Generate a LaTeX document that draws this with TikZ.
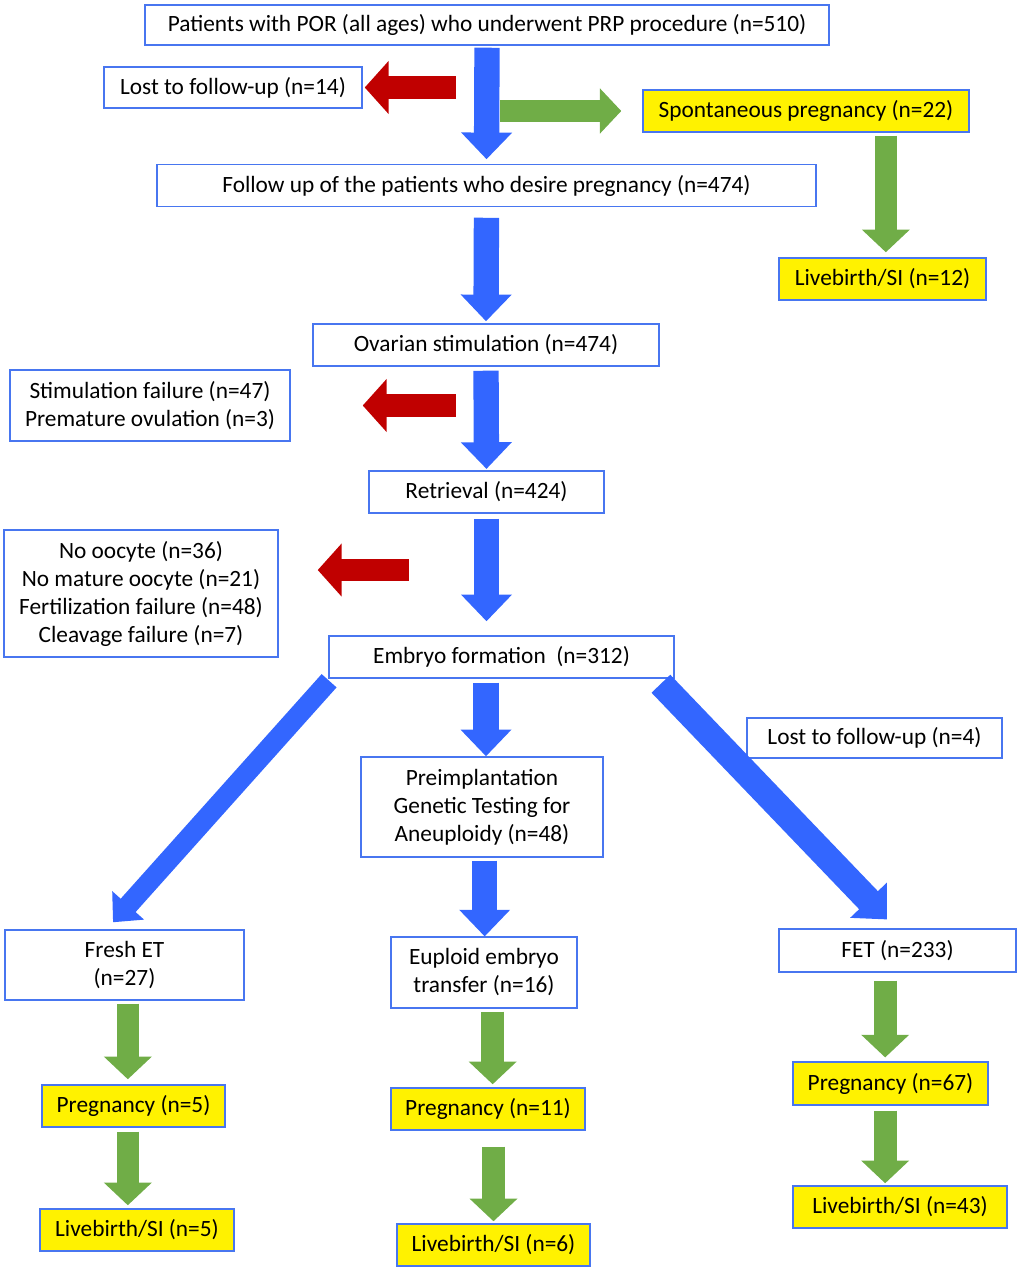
\documentclass[tikz,border=0pt]{standalone}
\usepackage{fontspec}
\setmainfont{Carlito}
\usetikzlibrary{arrows.meta}

\definecolor{boxline}{RGB}{72,118,240}
\definecolor{arrblue}{RGB}{51,102,255}
\definecolor{arrgreen}{RGB}{112,173,71}
\definecolor{arrred}{RGB}{192,0,0}

\tikzset{
    box/.style={draw=boxline, line width=1.1pt, fill=white, align=center, inner sep=0pt,
        font=\fontsize{17.5}{21}\selectfont, text=black},
    ybox/.style={box, fill=yellow},
    bluedown/.style={color=arrblue, line width=19pt, -{Triangle[length=20pt,width=37pt]}},
    greendown/.style={color=arrgreen, line width=17pt, -{Triangle[length=17pt,width=35pt]}},
    redleft/.style={color=arrred, line width=17pt, -{Triangle[length=18pt,width=39pt]}},
}

\begin{document}
\begin{tikzpicture}[x=0.75pt,y=-0.75pt]
    \useasboundingbox (0,0) rectangle (1020,1273);

    \node[box, minimum width=513pt, minimum height=30pt] (por) at (487,25) {Patients with POR (all ages) who underwent PRP procedure (n=510)};
    \node[box, minimum width=193.5pt, minimum height=30.75pt] (lost14) at (233,87.5) {Lost to follow-up (n=14)};
    \node[ybox, minimum width=244.5pt, minimum height=31.5pt] (spont) at (806,111) {Spontaneous pregnancy (n=22)};
    \node[box, minimum width=494pt, minimum height=31.5pt] (follow) at (486.5,185.5) {Follow up of the patients who desire pregnancy (n=474)};
    \node[ybox, minimum width=155pt, minimum height=31.5pt] (live12) at (882.5,279) {Livebirth/SI (n=12)};
    \node[box, minimum width=259.5pt, minimum height=31.5pt] (ovarian) at (486,345) {Ovarian stimulation (n=474)};
    \node[box, minimum width=210pt, minimum height=53pt] (stimfail) at (150,405.5) {Stimulation failure (n=47)\\Premature ovulation (n=3)};
    \node[box, minimum width=176pt, minimum height=31.5pt] (retrieval) at (486.5,492) {Retrieval (n=424)};
    \node[box, minimum width=205.5pt, minimum height=95pt] (nooocyte) at (141,593.5) {No oocyte (n=36)\\No mature oocyte (n=21)\\Fertilization failure (n=48)\\Cleavage failure (n=7)};
    \node[box, minimum width=259pt, minimum height=31.5pt] (embryo) at (501.5,657) {Embryo formation\ \ (n=312)};
    \node[box, minimum width=191pt, minimum height=30pt] (lost4) at (874.5,738) {Lost to follow-up (n=4)};
    \node[box, minimum width=181.5pt, minimum height=75pt] (pgta) at (482,807) {Preimplantation\\Genetic Testing for\\Aneuploidy (n=48)};
    \node[box, minimum width=179pt, minimum height=52.5pt] (fresh) at (124.5,965) {Fresh ET\\(n=27)};
    \node[box, minimum width=139.5pt, minimum height=53pt] (euploid) at (484,972.5) {Euploid embryo\\transfer (n=16)};
    \node[box, minimum width=178pt, minimum height=32pt] (fet) at (897.5,950.5) {FET (n=233)};
    \node[ybox, minimum width=137pt, minimum height=31.5pt] (preg5) at (133.5,1106) {Pregnancy (n=5)};
    \node[ybox, minimum width=145.5pt, minimum height=31.5pt] (preg11) at (488,1109) {Pregnancy (n=11)};
    \node[ybox, minimum width=146pt, minimum height=32pt] (preg67) at (890.5,1083.5) {Pregnancy (n=67)};
    \node[ybox, minimum width=145.5pt, minimum height=31.5pt] (live5) at (137,1230) {Livebirth/SI (n=5)};
    \node[ybox, minimum width=145pt, minimum height=31.5pt] (live6) at (493.5,1245) {Livebirth/SI (n=6)};
    \node[ybox, minimum width=160.5pt, minimum height=31.5pt] (live43) at (900,1207) {Livebirth/SI (n=43)};

    % main line
    \draw [bluedown, shorten <=1.5pt, shorten >=3.4pt] (por.south) -- (follow.north);
    \draw [bluedown, shorten <=7.9pt, shorten >=1.5pt] (follow.south) -- (ovarian.north);
    \draw [bluedown, shorten <=3pt, shorten >=1pt] (ovarian.south) -- (retrieval.north);
    \draw [bluedown, shorten <=3.75pt, shorten >=10.5pt] (retrieval.south) -- (retrieval.south |- embryo.north);
    \draw [bluedown, shorten <=3pt] ([xshift=3pt]pgta.north |- embryo.south) -- ([xshift=3pt]pgta.north);
    \draw [bluedown, shorten <=2.25pt] ([xshift=2pt]pgta.south) -- ([xshift=2pt]pgta.south |- euploid.north);
    \draw [color=arrblue, line width=15pt, -{Triangle[length=17pt,width=31pt]}]
        ([xshift=0.75pt,yshift=-1.5pt]embryo.south west) -- ([xshift=-8.6pt,yshift=5.25pt]fresh.north);
    \draw [color=arrblue, line width=19.5pt, -{Triangle[length=20pt,width=37pt]}]
        ([xshift=-10.5pt,yshift=-3.75pt]embryo.south east) -- ([xshift=-7.9pt,yshift=6.75pt]fet.north);

    % exclusions
    \draw [redleft, shorten >=1.5pt] ([xshift=70pt]lost14.east) -- (lost14.east);
    \draw [redleft] ([xshift=123.75pt]stimfail.east) -- ([xshift=54pt]stimfail.east);
    \draw [redleft] ([xshift=97.5pt,yshift=17.6pt]nooocyte.east) -- ([xshift=29.25pt,yshift=17.6pt]nooocyte.east);

    % outcomes
    \draw [color=arrgreen, line width=16pt, -{Triangle[length=16pt,width=33pt]}]
        ([xshift=-107pt]spont.west) -- ([xshift=-15.75pt]spont.west);
    \draw [greendown, shorten <=2.25pt, shorten >=3.75pt] ([xshift=2.5pt]live12.north |- spont.south) -- ([xshift=2.5pt]live12.north);
    \draw [greendown, shorten <=2.25pt, shorten >=3.75pt] ([xshift=2.5pt]fresh.south) -- ([xshift=2.5pt]fresh.south |- preg5.north);
    \draw [greendown, shorten <=3pt, shorten >=2.25pt] ([xshift=2.5pt]fresh.south |- preg5.south) -- ([xshift=2.5pt]fresh.south |- live5.north);
    \draw [greendown, shorten <=2.25pt, shorten >=2.25pt] ([xshift=3.5pt]preg11.north |- euploid.south) -- ([xshift=3.5pt]preg11.north);
    \draw [greendown, shorten <=12pt, shorten >=1.5pt] (live6.north |- preg11.south) -- (live6.north);
    \draw [greendown, shorten <=6pt, shorten >=3pt] ([xshift=-4pt]preg67.north |- fet.south) -- ([xshift=-4pt]preg67.north);
    \draw [greendown, shorten <=3.75pt, shorten >=1.5pt] ([xshift=-4pt]preg67.south) -- ([xshift=-4pt]preg67.south |- live43.north);

\end{tikzpicture}
\end{document}
